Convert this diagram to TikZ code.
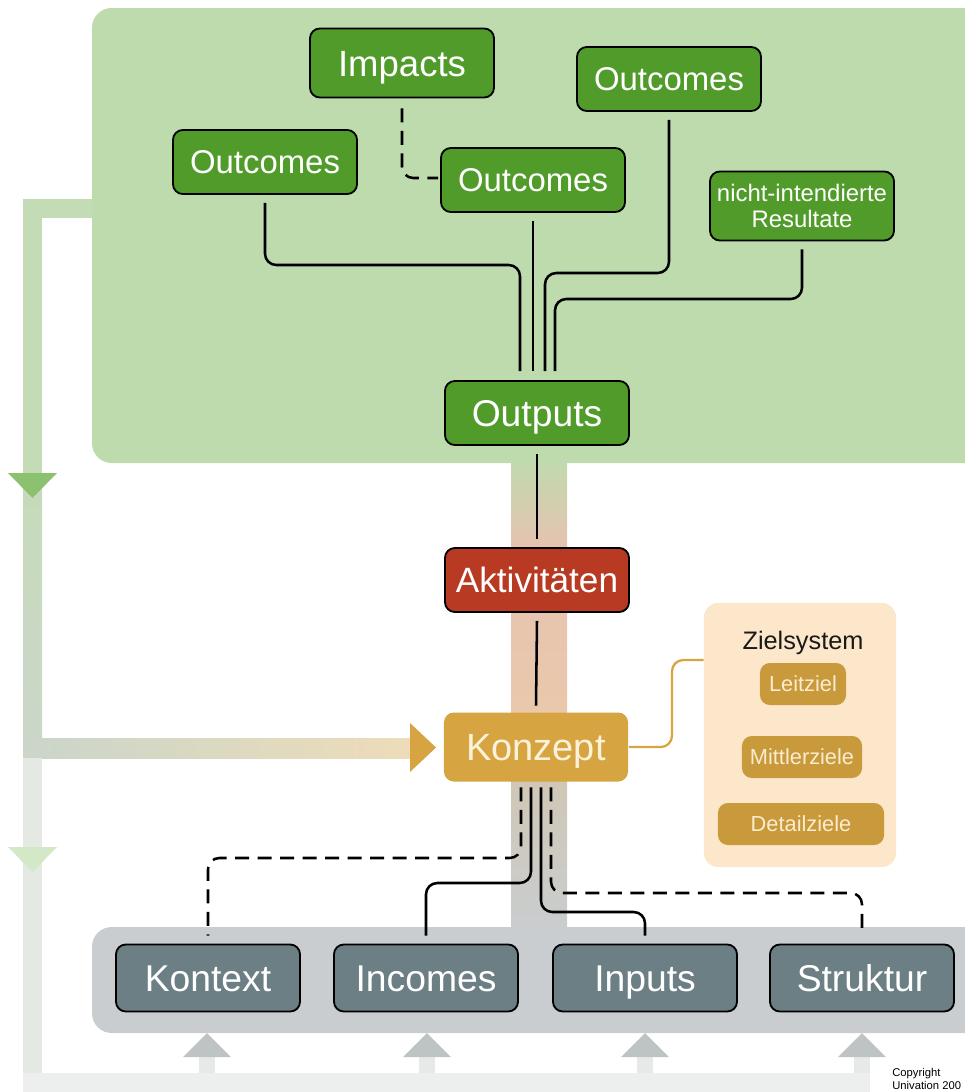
\documentclass[tikz,border=0pt]{standalone}
\usepackage{fontspec}
\setmainfont{Liberation Sans}
\usetikzlibrary{calc}
\definecolor{panelgreen}{RGB}{190,219,174}
\definecolor{boxgreen}{RGB}{80,155,42}
\definecolor{boxred}{RGB}{184,58,34}
\definecolor{boxorange}{RGB}{214,164,64}
\definecolor{konzepttext}{RGB}{252,242,218}
\definecolor{zielorange}{RGB}{201,154,60}
\definecolor{zieltext}{RGB}{251,235,207}
\definecolor{zielpeach}{RGB}{253,231,202}
\definecolor{panelgray}{RGB}{201,205,207}
\definecolor{boxgray}{RGB}{107,127,133}
\definecolor{trigray}{RGB}{190,195,196}
\definecolor{stubgray}{RGB}{230,233,232}
\definecolor{loopgreen}{RGB}{196,220,182}
\definecolor{loopgrey}{RGB}{203,214,201}
\definecolor{loopbeige}{RGB}{238,220,184}
\definecolor{looppale}{RGB}{228,234,227}
\definecolor{bottomband}{RGB}{236,239,238}
\definecolor{arrowgreen}{RGB}{140,193,111}
\definecolor{arrowpale}{RGB}{211,232,198}
\definecolor{bandpink}{RGB}{230,195,175}
\definecolor{bandpeach}{RGB}{234,200,172}
\definecolor{bandtan}{RGB}{208,199,181}
\tikzset{
  box/.style={draw=black, line width=1.3pt, rounded corners=7pt, text=white,
    inner sep=0pt, minimum width=4.6cm, minimum height=1.6cm},
  tline/.style={text height=#1, text depth=0pt},
  greenbox/.style={box, fill=boxgreen, font=\fontsize{23.4}{26}\selectfont},
  graybox/.style={box, tline=19pt, fill=boxgray, font=\fontsize{26.5}{28}\selectfont, minimum height=1.675cm},
  zielbox/.style={tline=11.1pt, fill=zielorange, rounded corners=7pt, text=zieltext, inner sep=0pt,
    minimum height=1.05cm, font=\fontsize{15.5}{17}\selectfont},
  conn/.style={draw=black, line width=1.8pt, rounded corners=8pt},
  dconn/.style={conn, dash pattern=on 10pt off 6pt},
  zconn/.style={draw=boxorange, line width=1.6pt, rounded corners=8pt}
}
\begin{document}
\begin{tikzpicture}[x=0.025cm, y=-0.025cm]
  \useasboundingbox (0,0) rectangle (965,1092);
  % feedback loop on the left
  \fill[loopgreen] (23,199) rectangle (100,218);
  \fill[loopgreen] (23,199) rectangle (42,475);
  \shade[top color=loopgreen!80!loopgrey, bottom color=loopgrey] (23,475) rectangle (42,758);
  \shade[left color=loopgrey, right color=loopbeige] (42,738) rectangle (412,758);
  \fill[looppale] (23,758) rectangle (42,1092);
  \fill[bottomband] (23,1073) rectangle (870,1092);
  \foreach \x in {207,427,645,862} {
    \fill[stubgray] (\x-8,1050) rectangle (\x+8,1073);
    \fill[trigray] (\x-24,1057) -- (\x,1033) -- (\x+24,1057) -- cycle;
  }
  \fill[arrowgreen] (8,473) -- (57,473) -- (32.5,498) -- cycle;
  \fill[arrowpale] (8,847) -- (57,847) -- (32.5,872) -- cycle;
  \fill[boxorange] (410,723) -- (436,747.5) -- (410,772) -- cycle;
  % central band
  \shade[top color=panelgreen, bottom color=bandpink] (511,455) rectangle (567,547);
  \shade[top color=bandpink, bottom color=bandpeach] (511,547) rectangle (567,714);
  \shade[top color=bandtan, bottom color=panelgray] (511,780) rectangle (567,930);
  % panels
  \fill[panelgreen, rounded corners=14pt] (92,8) rectangle (990,463);
  \fill[panelgray, rounded corners=14pt] (92,927) rectangle (990,1033);
  \node[fill=zielpeach, rounded corners=10pt, minimum width=4.8cm, minimum height=6.6cm] (zielsys) at (800,735) {};

  % results
  \node[greenbox, tline=18.6pt, font=\fontsize{26}{28}\selectfont, minimum height=1.725cm] (impacts) at (402,63) {Impacts};
  \node[greenbox, tline=16.8pt] (outL) at (265,162) {Outcomes};
  \node[greenbox, tline=16.8pt] (outM) at (533,180) {Outcomes};
  \node[greenbox, tline=16.8pt] (outR) at (669,79) {Outcomes};
  \node[greenbox, font=\fontsize{17}{19}\selectfont, align=center, minimum height=1.725cm] (resultate) at (802,206) {nicht-intendierte\\Resultate};
  \node[greenbox, tline=19pt, font=\fontsize{26.5}{28}\selectfont] (outputs) at (537,413) {Outputs};
  \node[box, tline=17.9pt, fill=boxred, font=\fontsize{25}{27}\selectfont] (akt) at (537,580) {Aktivitäten};
  \node[box, tline=19.3pt, draw=none, fill=boxorange, text=konzepttext, font=\fontsize{27}{29}\selectfont, minimum height=1.725cm] (konzept) at (536,747) {Konzept};

  % inputs
  \node[graybox] (kontext) at (208,978) {Kontext};
  \node[graybox] (incomes) at (426,978) {Incomes};
  \node[graybox] (inputs) at (645,978) {Inputs};
  \node[graybox] (struktur) at (862,978) {Struktur};

  % Zielsystem
  \node[anchor=base, font=\fontsize{18}{20}\selectfont, text=black!90] (zieltitel) at (803,649) {Zielsystem};
  \node[zielbox, minimum width=2.15cm] (leitziel) at (803,684) {Leitziel};
  \node[zielbox, minimum width=3cm] (mittler) at (802,757) {Mittlerziele};
  \node[zielbox, minimum width=4.15cm] (detail) at (801,824) {Detailziele};
  \draw[zconn] (konzept.east) -| (672,660) -- (zielsys.west |- 0,660);

  % connectors above Outputs
  \coordinate (o1) at ($(outputs.north)+(-17,-9)$);
  \coordinate (o3) at ($(outputs.north)+(8,-9)$);
  \coordinate (o4) at ($(outputs.north)+(18,-9)$);
  \draw[conn] ($(outL.south)+(0,8)$) |- (o1 |- 0,265) -- (o1);
  \draw[conn] ($(outM.south)+(0,8)$) -- (outM.south |- o1);
  \draw[conn] ($(outR.south)+(0,8)$) |- (o3 |- 0,273) -- (o3);
  \draw[conn] ($(resultate.south)+(0,8)$) |- (o4 |- 0,299) -- (o4);
  \draw[dconn] ($(impacts.south)+(0,10)$) |- ($(outM.west)+(-2,-2)$);

  % central chain
  \draw[conn] ($(outputs.south)+(0,8)$) -- ($(akt.north)+(0,-8)$);
  \draw[conn] ($(akt.south)+(0,8)$) -- ($(konzept.north)+(0,-6)$);

  % connectors below Konzept
  \draw[dconn] ($(konzept.south)+(-15,5)$) |- (kontext.north |- 0,858) -- ($(kontext.north)+(0,-8)$);
  \draw[conn] ($(konzept.south)+(-5,5)$) |- (incomes.north |- 0,883) -- ($(incomes.north)+(0,-8)$);
  \draw[conn] ($(konzept.south)+(5,5)$) |- (inputs.north |- 0,912) -- ($(inputs.north)+(0,-8)$);
  \draw[dconn] ($(konzept.south)+(15,5)$) |- (struktur.north |- 0,893) -- ($(struktur.north)+(0,-8)$);

  \node[anchor=south west, align=left, inner sep=0pt, font=\fontsize{8}{9.2}\selectfont] (copyright) at (892,1090) {Copyright\\Univation 200};
\end{tikzpicture}
\end{document}
